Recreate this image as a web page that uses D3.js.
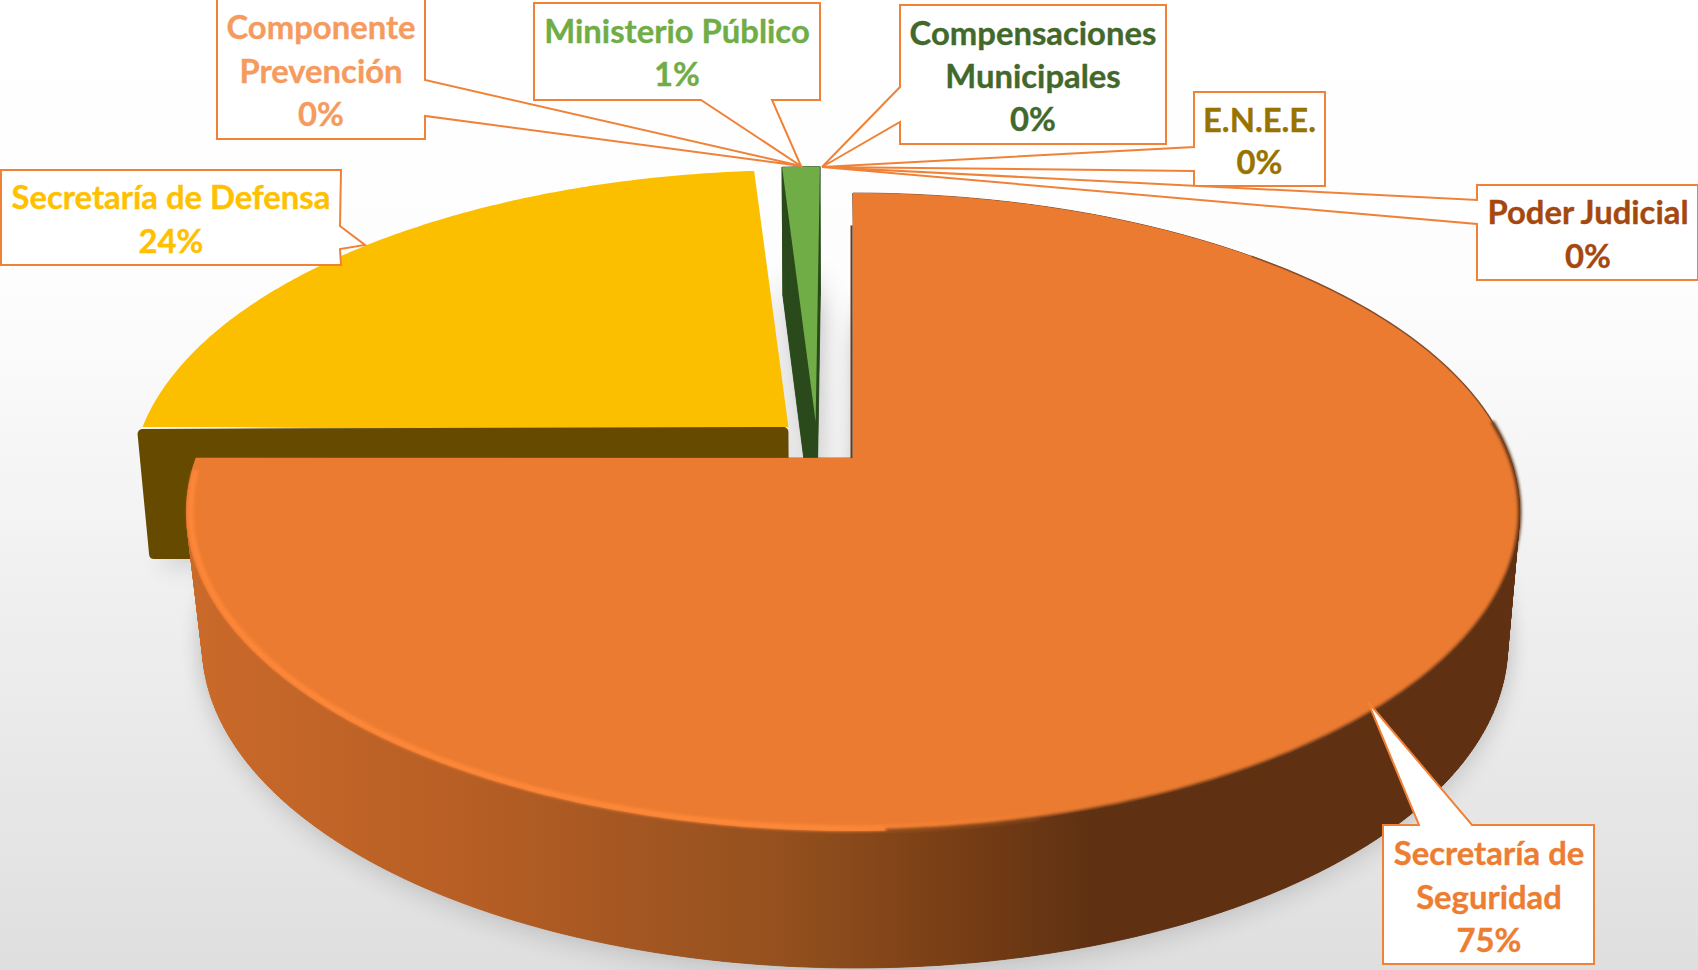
<!DOCTYPE html>
<html><head><meta charset="utf-8">
<script src="https://cdnjs.cloudflare.com/ajax/libs/d3/7.8.5/d3.min.js"></script>
<style>html,body{margin:0;padding:0;background:#fff;overflow:hidden}svg{display:block}text{font-family:Lato,"Open Sans",sans-serif;font-weight:700;text-anchor:middle;stroke-width:.35px;paint-order:stroke}</style>
</head><body><svg id="c" width="1698" height="970"></svg>
<script>
const categories=["Secretaría de Seguridad","Secretaría de Defensa","Componente Prevención","Ministerio Público","Compensaciones Municipales","E.N.E.E.","Poder Judicial"];
const values=[75.0,23.75,0.13,1.09,0.01,0.01,0.01];
const percentLabels=["75%","24%","0%","1%","0%","0%","0%"];
const labelLines=[["Secretaría de","Seguridad"],["Secretaría de Defensa"],["Componente","Prevención"],["Ministerio Público"],["Compensaciones","Municipales"],["E.N.E.E."],["Poder Judicial"]];
const topColors=["#eb7b30","#fbbf00","#a5a5a5","#70ad47","#43682b","#997300","#9e480e"];
const wallColors=["url(#wallG)","#654a00","#777","#2b4a1c","#2b4a1c","#654a00","#6b3a1a"];
const textColors=["#ed7d31","#ffc000","#f59b5f","#70ad47","#43682b","#997300","#a5480f"];
const explode=[[0,0],[-0.10,-0.102],[0,0],[-0.058,-0.1185],[0,0],[0,0],[0,0]];

/* callouts: box x,y,w,h; pointer base 2 points + tip; text centre x and line centres */
const boxes=[
 {b:[1383,825,211,139],p:[[1419,825],[1368,702],[1472,825]],cx:1489,y:[854,898,941]},
 {b:[1,170,340,95],p:[[340,226],[365,245],[340,249]],cx:171,y:[198,242]},
 {b:[217,-3,208,142],p:[[425,80],[801,166],[425,116]],cx:321,y:[28,72,115]},
 {b:[534,3,286,97],p:[[701,100],[801,166],[772,100]],cx:677,y:[32,75]},
 {b:[900,5,266,139],p:[[900,87],[822,167],[900,122]],cx:1033,y:[34,77,120]},
 {b:[1194,92,131,94],p:[[1194,147],[822,167],[1194,171]],cx:1259.5,y:[121,163]},
 {b:[1477,185,221,95],p:[[1477,200],[822,167],[1477,224]],cx:1588,y:[213,257]}
];
const FS=32.8;

const svg=d3.select("#c");
const defs=svg.append("defs");
const bg=defs.append("linearGradient").attr("id","bgG").attr("x1",0).attr("y1",0).attr("x2",0).attr("y2",1);
[[0,"#ffffff"],[.3,"#fdfdfd"],[1,"#dfdfdf"]].forEach(s=>bg.append("stop").attr("offset",s[0]).attr("stop-color",s[1]));
const wg=defs.append("linearGradient").attr("id","wallG").attr("gradientUnits","userSpaceOnUse").attr("x1",186).attr("x2",1520).attr("y1",0).attr("y2",0);
[[0,"#ca6a2a"],[.2,"#b85f25"],[.45,"#93501e"],[.56,"#7c4016"],[.68,"#5f3112"],[1,"#5f3112"]].forEach(s=>wg.append("stop").attr("offset",s[0]).attr("stop-color",s[1]));
const rg=defs.append("linearGradient").attr("id","rimG").attr("gradientUnits","userSpaceOnUse").attr("x1",186).attr("x2",1100).attr("y1",0).attr("y2",0);
[[0,"#fd8638"],[.7,"#fd8739"],[1,"#eb7b30"]].forEach(s=>rg.append("stop").attr("offset",s[0]).attr("stop-color",s[1]));
const f=defs.append("filter").attr("id","sh").attr("x","-10%").attr("y","-10%").attr("width","120%").attr("height","120%");
f.append("feGaussianBlur").attr("stdDeviation",12);
const f2=defs.append("filter").attr("id","soft").attr("x","-5%").attr("y","-5%").attr("width","110%").attr("height","110%");
f2.append("feGaussianBlur").attr("stdDeviation",1.5);
const f3=defs.append("filter").attr("id","soft2").attr("x","-5%").attr("y","-5%").attr("width","110%").attr("height","110%");
f3.append("feGaussianBlur").attr("stdDeviation",.6);

svg.append("rect").attr("width",1698).attr("height",970).attr("fill","url(#bgG)");

/* perspective projection of the pie plane */
const CX=853,CY=458,A=657,BB=232.3,K=-0.1693;
const proj=(ux,uy)=>{const d=1+K*uy;return [CX+A*ux/d,(BB*uy+CY)/d];};
const pt=(a,r,o)=>proj(o[0]+r*Math.sin(a),o[1]-r*Math.cos(a));
const base=p=>[855+(p[0]-CX)*0.979,p[1]+132+(p[1]-426)*0.0123];
const baseCut=p=>[CX+(p[0]-CX)*0.988,p[1]+132+(p[1]-426)*0.0123];
const line=d3.line();
const arcPts=(a0,a1,r,o)=>{const n=Math.max(2,Math.ceil(Math.abs(a1-a0)/0.01));return d3.range(n+1).map(i=>pt(a0+(a1-a0)*i/n,r,o));};

const slices=d3.pie().value(d=>d).sort(null).startAngle(0).endAngle(2*Math.PI)(values);
const topPts=(s,i)=>[pt(0,0,explode[i]),...arcPts(s.startAngle,s.endAngle,1,explode[i])];
const visible=slices.map((s,i)=>({s,i})).filter(d=>d.s.value>0.5);
const shadow=svg.append("g").attr("filter","url(#sh)").attr("fill","#000").attr("opacity",.13).attr("transform","translate(0,-18)");
visible.forEach(d=>shadow.append("path").attr("d",line(topPts(d.s,d.i).map(base))+"Z"));
const shadow2=svg.append("g").attr("filter","url(#sh)").attr("fill","#000").attr("opacity",.13).attr("transform","translate(0,8)");
visible.forEach(d=>shadow2.append("path").attr("d",line(topPts(d.s,d.i).map(base))+"Z"));

const order=[1,3,0];
order.forEach(i=>{
  const s=slices[i],o=explode[i],g=svg.append("g");
  const t=topPts(s,i),bp=t.map(i===3?baseCut:base);
  const wall=g.append("g");
  if(i===1){
    /* the cut face toward the viewer, with softened corners */
    const ap=pt(0,0,o),rimP=pt(s.startAngle,1,o),bA=baseCut(ap),bR=baseCut(rimP),r=5;
    wall.append("path").attr("d",line([[rimP[0]-5+r,rimP[1]+2+r],[ap[0]-r,ap[1]+r],[bA[0]-r,bA[1]-r],[bR[0]+r-2,bR[1]-r]])+"Z")
      .attr("fill",wallColors[i]).attr("stroke",wallColors[i]).attr("stroke-width",2*r).attr("stroke-linejoin","round");
  } else {
    const faces=[];
    for(let k=0;k<t.length;k++){const n=(k+1)%t.length;faces.push([t[k],t[n],bp[n],bp[k]]);}
    const col=wallColors[i];
    wall.selectAll("path").data(faces).join("path").attr("d",q=>line(q)+"Z").attr("fill",col).attr("stroke",col).attr("stroke-width",.8);
    wall.append("path").attr("d",line(bp)+"Z").attr("fill",col);
  }
  if(i===0){
    g.append("path").attr("d",line([pt(0,0,o),pt(0,.86,o)])).attr("stroke","#6b3a1a").attr("stroke-width",2).attr("fill","none").attr("transform","translate(-1.5,0)");
  }
  g.append("path").attr("d",line(t)+"Z").attr("fill",topColors[i]);
  if(i===0){
    g.append("path").attr("d",line(arcPts(s.endAngle-0.04,2.9,0.994,o))).attr("fill","none").attr("stroke","url(#rimG)").attr("stroke-width",6).attr("filter","url(#soft)");
    g.append("path").attr("d",line(arcPts(3.1,1.45,1,o))).attr("fill","none").attr("stroke","url(#wallG)").attr("stroke-width",3.5).attr("filter","url(#soft)");
    g.append("path").attr("d",line(arcPts(1.5,0.75,1,o))).attr("fill","none").attr("stroke","#7d4a2a").attr("stroke-width",1.6).attr("opacity",.8).attr("filter","url(#soft2)");
  }
});

/* callouts */
const lab=svg.append("g");
boxes.forEach((c,i)=>{
  const [x,y,w,h]=c.b,p=c.p;let path;
  if(p[0][1]===y&&p[2][1]===y){path=[[x,y],p[0],p[1],p[2],[x+w,y],[x+w,y+h],[x,y+h]];}
  else if(p[0][1]===y+h){path=[[x,y],[x+w,y],[x+w,y+h],p[2],p[1],p[0],[x,y+h]];}
  else if(p[0][0]===x+w||p[0][0]===x+w-1){path=[[x,y],[x+w,y],p[0],p[1],p[2],[x+w,y+h],[x,y+h]];}
  else {path=[[x,y],[x+w,y],[x+w,y+h],[x,y+h],p[2],p[1],p[0]];}
  lab.append("path").attr("d",line(path)+"Z").attr("fill","#fff").attr("stroke","#f08238").attr("stroke-width",2);
});
boxes.forEach((c,i)=>{
  [...labelLines[i],percentLabels[i]].forEach((t,j)=>lab.append("text").attr("x",c.cx).attr("y",c.y[j]).attr("dy",".35em").attr("font-size",FS).attr("fill",textColors[i]).attr("stroke",textColors[i]).text(t));
});
</script></body></html>
